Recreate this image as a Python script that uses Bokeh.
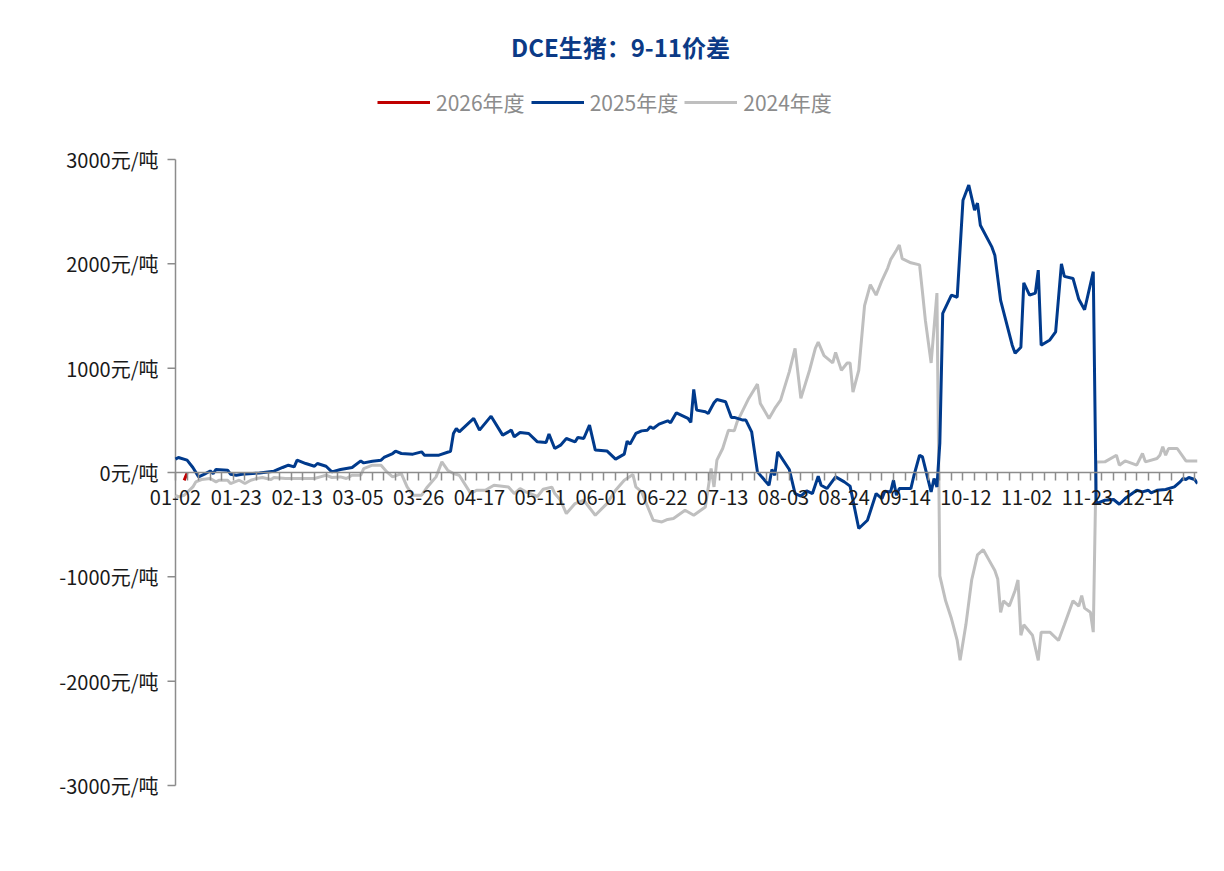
from datetime import date, timedelta
from bokeh.plotting import figure
from bokeh.models import Range1d, FixedTicker, Legend, LegendItem, Label
from bokeh.embed import file_html
from bokeh.resources import INLINE

# ---------------- data ----------------
TITLE = "DCE生猪：9-11价差"
SKIP_DAYS = ["04-04", "05-01", "05-02", "05-03",
             "10-01", "10-02", "10-03", "10-04", "10-05", "10-06", "10-07"]
X_LABELS = ["01-02", "01-23", "02-13", "03-05", "03-26", "04-17", "05-11", "06-01",
            "06-22", "07-13", "08-03", "08-24", "09-14", "10-12", "11-02", "11-23", "12-14"]
Y_TICKS = [-3000, -2000, -1000, 0, 1000, 2000, 3000]
UNIT = "元/吨"

# category axis: month-day of the season (union of trading days)
CATEGORIES = []
_d = date(2024, 1, 2)
while _d <= date(2024, 12, 31):
    _s = _d.strftime("%m-%d")
    if _s not in SKIP_DAYS:
        CATEGORIES.append(_s)
    _d += timedelta(days=1)

# 2026年度 (category index, value)
x_2026 = [3, 4]
y_2026 = [-75, -5]

# 2025年度
x_2025 = [0, 1, 4, 6, 8, 10, 12, 13, 14, 18, 19, 21, 23, 29, 34, 37, 39, 41, 42, 45,
          48, 49, 52, 54, 57, 61, 64, 65, 68, 71, 72, 75, 76, 78, 82, 85, 86, 91, 95, 96,
          97, 98, 103, 105, 109, 113, 116, 117, 119, 122, 125, 128, 129, 131, 133, 135, 138, 139, 141, 143,
          145, 149, 152, 155, 156, 157, 159, 161, 163, 164, 165, 167, 170, 171, 173, 177, 178, 179, 180, 183,
          184, 186, 187, 190, 192, 193, 196, 197, 199, 201, 205, 206, 207, 208, 212, 214, 216, 218, 220, 222,
          223, 225, 228, 231, 233, 236, 239, 242, 244, 245, 247, 248, 249, 250, 254, 255, 257, 258, 261, 262,
          263, 264, 265, 268, 270, 272, 274, 276, 277, 278, 282, 283, 285, 289, 290, 292, 293, 295, 297, 298,
          299, 302, 304, 306, 307, 310, 312, 314, 317, 318, 321, 324, 326, 328, 332, 334, 336, 337, 339, 342,
          345, 347, 348, 349, 350, 352, 353]
y_2025 = [128, 144, 118, 48, -42, -16, 15, -10, 29, 22, -16, -26, -16, -4, 12, 48, 70, 54, 118, 86,
          60, 86, 60, 6, 29, 48, 111, 92, 108, 118, 144, 182, 204, 182, 176, 198, 166, 166, 204, 374,
          422, 390, 518, 406, 540, 358, 406, 342, 384, 374, 294, 288, 368, 230, 262, 326, 294, 336, 326, 454,
          215, 207, 128, 176, 300, 272, 374, 399, 406, 438, 422, 464, 495, 476, 572, 518, 480, 797, 598, 582,
          566, 668, 700, 678, 528, 528, 502, 502, 390, 6, -122, 29, -26, 198, 29, -202, -227, -177, -202, -36,
          -122, -154, -42, -90, -131, -537, -458, -202, -250, -180, -186, -74, -218, -154, -154, -36, 166, 150, -186, -58,
          -138, 281, 1526, 1700, 1680, 2610, 2755, 2515, 2582, 2370, 2160, 2083, 1650, 1220, 1143, 1200, 1817, 1700, 1720, 1940,
          1220, 1270, 1347, 2000, 1880, 1860, 1660, 1560, 1925, -298, -266, -259, -304, -250, -170, -186, -170, -196, -170, -163,
          -138, -90, -58, -67, -48, -67, -106]

# 2024年度
x_2024 = [0, 1, 3, 6, 7, 9, 12, 14, 15, 18, 19, 22, 24, 26, 28, 30, 33, 34, 38, 43,
          48, 50, 52, 54, 57, 59, 61, 64, 65, 68, 71, 73, 75, 78, 80, 82, 85, 87, 90, 92,
          94, 96, 98, 102, 104, 107, 110, 115, 117, 119, 121, 125, 127, 130, 131, 133, 135, 138, 141, 145,
          149, 152, 155, 158, 159, 161, 165, 168, 170, 172, 176, 179, 183, 185, 186, 187, 189, 191, 193, 194,
          196, 198, 201, 202, 205, 207, 209, 212, 214, 216, 219, 221, 222, 224, 227, 228, 230, 232, 233, 234,
          236, 238, 240, 242, 244, 246, 247, 249, 250, 251, 254, 257, 258, 259, 261, 263, 264, 266, 268, 270,
          271, 273, 275, 277, 279, 281, 283, 284, 285, 286, 288, 290, 291, 292, 293, 296, 298, 299, 302, 305,
          307, 310, 312, 313, 314, 316, 317, 318, 321, 325, 326, 328, 332, 334, 335, 339, 340, 341, 342, 343,
          346, 349, 353]
y_2024 = [-218, -234, -218, -138, -90, -67, -58, -90, -74, -74, -106, -74, -106, -74, -58, -48, -67, -48, -58, -58,
          -58, -42, -26, -48, -42, -58, -26, -26, 38, 70, 70, 6, -42, -10, -138, -218, -218, -138, -42, 102,
          22, -10, -26, -202, -170, -170, -122, -138, -202, -154, -186, -230, -160, -140, -202, -266, -394, -298, -266, -410,
          -298, -170, -74, -20, -138, -186, -458, -474, -450, -440, -362, -410, -330, 38, -138, 118, 230, 406, 399, 486,
          598, 710, 847, 662, 518, 614, 694, 965, 1190, 710, 980, 1190, 1250, 1120, 1050, 1150, 980, 1050, 1050, 770,
          980, 1600, 1800, 1700, 1840, 1960, 2040, 2130, 2180, 2050, 2010, 1990, 1730, 1460, 1050, 1720, -990, -1230, -1400, -1610,
          -1800, -1460, -1030, -790, -740, -840, -940, -1020, -1340, -1230, -1280, -1130, -1030, -1560, -1460, -1560, -1800, -1530, -1530, -1610,
          -1460, -1230, -1280, -1180, -1300, -1340, -1530, 100, 102, 166, 70, 111, 70, 182, 102, 134, 166, 246, 166, 230,
          230, 111, 111]

# ---------------- styles ----------------
C_2026 = "#C00000"
C_2025 = "#003A8C"
C_2024 = "#BFBFBF"
AXIS_C = "#8C8C8C"
TEXT_C = "#1A1A1A"
FONT = "Noto Sans CJK SC"
LABEL_SIZE = "20px"

W, H = 1224, 871
BORDER_R, BORDER_B = 27, 60
AXIS_X = 175                        # canvas x of the value axis (first category)
AXIS_TOP = 159                      # canvas y of the top value tick
AXIS_BOTTOM = 785                   # canvas y of the bottom value tick
FRAME_W = W - BORDER_R
FRAME_H = H - BORDER_B
N = len(CATEGORIES)
px_per_cat = (FRAME_W - AXIS_X) / (N - 1)
x_start = -AXIS_X / px_per_cat
y_lo, y_hi = min(Y_TICKS), max(Y_TICKS)
px_per_val = (AXIS_BOTTOM - AXIS_TOP) / (y_hi - y_lo)
y_top = y_hi + AXIS_TOP / px_per_val
y_bottom = y_lo - (FRAME_H - AXIS_BOTTOM) / px_per_val

p = figure(width=W, height=H, output_backend="svg", toolbar_location=None,
           x_range=Range1d(x_start, N - 1), y_range=Range1d(y_bottom, y_top),
           y_axis_location=None,
           min_border_left=0, min_border_right=BORDER_R,
           min_border_top=0, min_border_bottom=BORDER_B)
p.xgrid.visible = False
p.ygrid.visible = False
p.outline_line_color = None
p.background_fill_color = "white"
p.border_fill_color = "white"

# value axis (drawn at the first category)
tick_len = 8 / px_per_cat
p.segment(x0=[0], y0=[y_lo], x1=[0], y1=[y_hi], line_color=AXIS_C, line_width=1.5)
p.segment(x0=[0] * len(Y_TICKS), y0=Y_TICKS, x1=[-tick_len] * len(Y_TICKS), y1=Y_TICKS,
          line_color=AXIS_C, line_width=1.5)
p.text(x=[0] * len(Y_TICKS), y=Y_TICKS, text=[f"{v}{UNIT}" for v in Y_TICKS],
       x_offset=-17, text_align="right", text_baseline="middle",
       text_font={"value": FONT}, text_font_size={"value": LABEL_SIZE}, text_color=TEXT_C)

# category axis at y = 0
label_pos = [CATEGORIES.index(s) for s in X_LABELS]
xa = p.xaxis[0]
xa.fixed_location = 0
xa.bounds = (0, N - 1)
xa.ticker = FixedTicker(ticks=label_pos, minor_ticks=list(range(0, N, 4)))
xa.major_label_overrides = {i: CATEGORIES[i] for i in label_pos}
xa.axis_line_color = AXIS_C
xa.axis_line_width = 1.5
xa.major_tick_out = 0
xa.major_tick_in = 0
xa.minor_tick_out = 8
xa.minor_tick_in = 0
xa.minor_tick_line_color = AXIS_C
xa.minor_tick_line_width = 1.5
xa.major_label_standoff = 9
xa.major_label_text_font = FONT
xa.major_label_text_font_size = LABEL_SIZE
xa.major_label_text_color = TEXT_C

# series
r24 = p.line(x_2024, y_2024, line_color=C_2024, line_width=3)
r25 = p.line(x_2025, y_2025, line_color=C_2025, line_width=3)
r26 = p.line(x_2026, y_2026, line_color=C_2026, line_width=3)

legend = Legend(items=[LegendItem(label="2026年度", renderers=[r26]),
                       LegendItem(label="2025年度", renderers=[r25]),
                       LegendItem(label="2024年度", renderers=[r24])],
                location=(377, FRAME_H - 117),
                orientation="horizontal", padding=0, margin=0, spacing=6,
                glyph_width=53, glyph_height=20, label_standoff=6,
                label_text_font=FONT, label_text_font_size="21px",
                label_text_color="#8C8C8C", border_line_color=None,
                background_fill_alpha=0)
p.add_layout(legend)

title = Label(x=620, y=FRAME_H - 46, x_units="screen", y_units="screen",
              text=TITLE, text_align="center", text_baseline="middle",
              text_font=FONT, text_font_size="24px", text_font_style="bold",
              text_color="#0B3A86")
p.add_layout(title)

open("out.html", "w").write(file_html(p, INLINE))
